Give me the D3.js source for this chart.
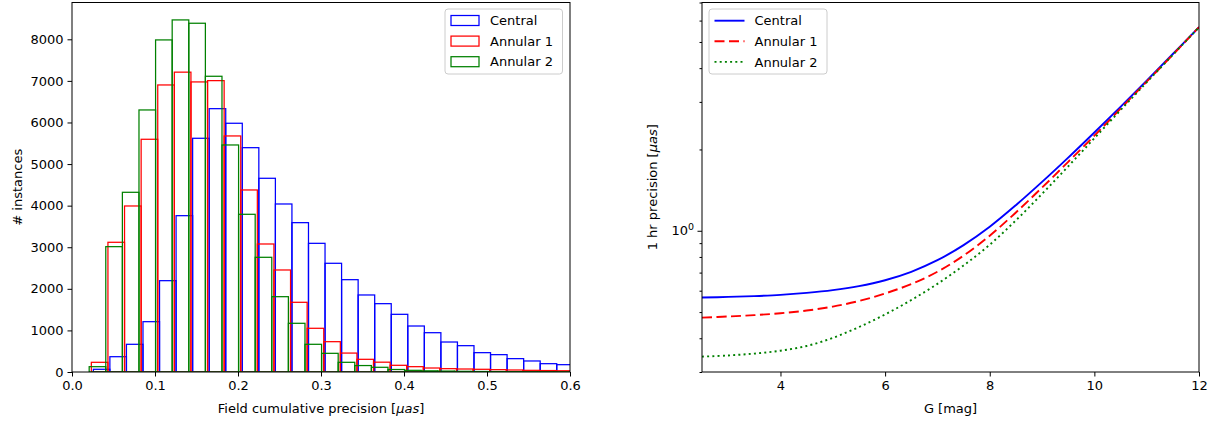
<!DOCTYPE html>
<html>
<head>
<meta charset="utf-8">
<script src="https://cdn.jsdelivr.net/npm/d3@7"></script>
<style>
  html, body { margin: 0; padding: 0; background: #fff; }
  svg { display: block; font-family: "DejaVu Sans", sans-serif; }
</style>
</head>
<body>
<svg id="chart" width="1221" height="421"></svg>
<script>
// ---------------- DATA ----------------
const seriesNames = ["Central", "Annular 1", "Annular 2"];
const seriesColors = ["#0000ff", "#ff0000", "#008000"];

// Histogram (left panel): each series has its own bin origin, bins of width ~0.02
const histBinStart = [0.0257, 0.0233, 0.0207];
const histBinWidth = [0.01994, 0.0200, 0.0200];
const centralCounts = [65, 368, 666, 1210, 2196, 3759, 5620, 6332, 5981, 5394, 4658, 4040, 3591, 3094, 2614, 2220, 1852, 1643, 1387, 1106, 945, 721, 633, 465, 417, 321, 265, 200, 176];
const annular1Counts = [233, 3119, 3992, 5596, 6902, 7210, 6975, 7006, 5676, 4377, 3078, 2453, 1676, 1051, 729, 455, 305, 236, 161, 128, 96, 80, 72, 65, 56, 48, 40, 35, 30];
const annular2Counts = [128, 3014, 4321, 6301, 7985, 8466, 8386, 7111, 5459, 3792, 2758, 1811, 1171, 666, 449, 233, 155, 113, 60, 40, 28, 22, 16, 12, 10, 8, 6, 5, 4];
const histXTicks = [0.0, 0.1, 0.2, 0.3, 0.4, 0.5, 0.6];
const histYTicks = [0, 1000, 2000, 3000, 4000, 5000, 6000, 7000, 8000];

// Precision curves (right panel)
const magG = [2.5, 3, 3.5, 4, 4.5, 5, 5.5, 6, 6.5, 7, 7.5, 8, 8.5, 9, 9.5, 10, 10.5, 11, 11.5, 12];
const centralPrec = [0.566, 0.569, 0.573, 0.579, 0.589, 0.603, 0.624, 0.656, 0.705, 0.778, 0.885, 1.035, 1.244, 1.517, 1.866, 2.312, 2.876, 3.597, 4.512, 5.675];
const annular1Prec = [0.477, 0.4815, 0.487, 0.495, 0.5065, 0.524, 0.5495, 0.586, 0.635, 0.705, 0.809, 0.959, 1.169, 1.445, 1.80, 2.249, 2.831, 3.565, 4.487, 5.675];
const annular2Prec = [0.342, 0.3455, 0.351, 0.3597, 0.3745, 0.4013, 0.440, 0.490, 0.554, 0.636, 0.744, 0.888, 1.093, 1.369, 1.732, 2.201, 2.796, 3.545, 4.483, 5.662];
const precXTicks = [4, 6, 8, 10, 12];
const precYMajor = [1];
const precYMinor = [0.3, 0.4, 0.5, 0.6, 0.7, 0.8, 0.9, 2, 3, 4, 5, 6, 7];

// ---------------- LAYOUT ----------------
const svg = d3.select("#chart");
const FS = 13;
const yTop = 2.5, yBot = 372;
const L = { x0: 72, x1: 570 };
const R = { x0: 702, x1: 1199 };

// ---------------- LEFT: HISTOGRAM ----------------
const xH = d3.scaleLinear().domain([0, 0.6]).range([L.x0, L.x1]);
const yH = d3.scaleLinear().domain([0, 8000 * (yBot - yTop) / (yBot - 39.3)]).range([yBot, yTop]);

svg.append("clipPath").attr("id", "clipL")
  .append("rect").attr("x", L.x0).attr("y", yTop).attr("width", L.x1 - L.x0).attr("height", yBot - yTop);

const gH = svg.append("g").attr("clip-path", "url(#clipL)");
const allCounts = [centralCounts, annular1Counts, annular2Counts];
allCounts.forEach((counts, si) => {
  const bins = counts.map((c, i) => ({
    x0: histBinStart[si] + i * histBinWidth[si],
    x1: histBinStart[si] + (i + 1) * histBinWidth[si],
    c
  }));
  gH.append("g").selectAll("rect").data(bins).join("rect")
    .attr("x", d => xH(d.x0))
    .attr("y", d => yH(d.c))
    .attr("width", d => xH(d.x1) - xH(d.x0))
    .attr("height", d => yH(0) - yH(d.c))
    .attr("fill", "none")
    .attr("stroke", seriesColors[si])
    .attr("stroke-width", 1.25);
});

// Axes left
svg.append("rect").attr("x", L.x0).attr("y", yTop).attr("width", L.x1 - L.x0).attr("height", yBot - yTop)
  .attr("fill", "none").attr("stroke", "#000").attr("stroke-width", 1);

const xAxisL = svg.append("g").attr("transform", `translate(0,${yBot})`)
  .call(d3.axisBottom(xH).tickValues(histXTicks).tickFormat(d3.format(".1f")).tickSizeOuter(0).tickSize(4.5).tickPadding(4));
const yAxisL = svg.append("g").attr("transform", `translate(${L.x0},0)`)
  .call(d3.axisLeft(yH).tickValues(histYTicks).tickFormat(d3.format("d")).tickSizeOuter(0).tickSize(4.5).tickPadding(4));
[xAxisL, yAxisL].forEach(a => {
  a.select(".domain").remove();
  a.selectAll("text").attr("font-size", FS).attr("font-family", "DejaVu Sans").attr("fill", "#000");
  a.selectAll("line").attr("stroke", "#000");
});

// Labels left
const xlabL = svg.append("text").attr("x", (L.x0 + L.x1) / 2).attr("y", 413)
  .attr("text-anchor", "middle").attr("font-size", FS);
xlabL.append("tspan").text("Field cumulative precision [");
xlabL.append("tspan").attr("font-style", "italic").text("μas");
xlabL.append("tspan").text("]");

svg.append("text").attr("transform", `translate(22,${(yTop + yBot) / 2}) rotate(-90)`)
  .attr("text-anchor", "middle").attr("font-size", FS).text("# instances");

// Legend left
const legL = svg.append("g").attr("transform", "translate(445,9)");
legL.append("rect").attr("width", 117.5).attr("height", 65).attr("rx", 3)
  .attr("fill", "#fff").attr("fill-opacity", 0.8).attr("stroke", "#cccccc").attr("stroke-width", 1);
seriesNames.forEach((n, i) => {
  const cy = 11.5 + i * 20.6;
  legL.append("rect").attr("x", 6).attr("y", cy - 5).attr("width", 28).attr("height", 10)
    .attr("fill", "none").attr("stroke", seriesColors[i]).attr("stroke-width", 1.25);
  legL.append("text").attr("x", 45).attr("y", cy + 4.7).attr("font-size", FS).text(n);
});

// ---------------- RIGHT: PRECISION CURVES ----------------
const xP = d3.scaleLinear().domain([2.5, 12]).range([R.x0, R.x1]);
const yP = d3.scaleLog().domain([0.3, 7.0]).range([yBot, yTop]);

svg.append("clipPath").attr("id", "clipR")
  .append("rect").attr("x", R.x0).attr("y", yTop).attr("width", R.x1 - R.x0).attr("height", yBot - yTop);

const line = d3.line().x(d => xP(d[0])).y(d => yP(d[1])).curve(d3.curveCatmullRom.alpha(0.5));
const precSeries = [centralPrec, annular1Prec, annular2Prec];
const dashes = [null, "10,4.5", "2,3.2"];
const gP = svg.append("g").attr("clip-path", "url(#clipR)");
precSeries.forEach((vals, si) => {
  gP.append("path")
    .datum(magG.map((g, i) => [g, vals[i]]))
    .attr("d", line)
    .attr("fill", "none")
    .attr("stroke", seriesColors[si])
    .attr("stroke-width", 1.9)
    .attr("stroke-dasharray", dashes[si]);
});

svg.append("rect").attr("x", R.x0).attr("y", yTop).attr("width", R.x1 - R.x0).attr("height", yBot - yTop)
  .attr("fill", "none").attr("stroke", "#000").attr("stroke-width", 1);

const xAxisR = svg.append("g").attr("transform", `translate(0,${yBot})`)
  .call(d3.axisBottom(xP).tickValues(precXTicks).tickFormat(d3.format("d")).tickSizeOuter(0).tickSize(4.5).tickPadding(4));
const yAxisRMinor = svg.append("g").attr("transform", `translate(${R.x0},0)`)
  .call(d3.axisLeft(yP).tickValues(precYMinor).tickFormat("").tickSizeOuter(0).tickSize(2.5));
const yAxisR = svg.append("g").attr("transform", `translate(${R.x0},0)`)
  .call(d3.axisLeft(yP).tickValues(precYMajor).tickFormat("").tickSizeOuter(0).tickSize(4.5));
[xAxisR, yAxisR, yAxisRMinor].forEach(a => {
  a.select(".domain").remove();
  a.selectAll("text").attr("font-size", FS).attr("font-family", "DejaVu Sans").attr("fill", "#000");
  a.selectAll("line").attr("stroke", "#000");
});
// 10^0 label
precYMajor.forEach(v => {
  const t = svg.append("text").attr("x", R.x0 - 8).attr("y", yP(v) + 4.5)
    .attr("text-anchor", "end").attr("font-size", FS);
  t.append("tspan").text("10");
  t.append("tspan").attr("dy", -5).attr("font-size", 9.5).text("0");
});

svg.append("text").attr("x", (R.x0 + R.x1) / 2).attr("y", 413)
  .attr("text-anchor", "middle").attr("font-size", FS).text("G [mag]");

const ylabR = svg.append("text").attr("transform", `translate(657,${(yTop + yBot) / 2}) rotate(-90)`)
  .attr("text-anchor", "middle").attr("font-size", FS);
ylabR.append("tspan").text("1 hr precision [");
ylabR.append("tspan").attr("font-style", "italic").text("μas");
ylabR.append("tspan").text("]");

// Legend right
const legR = svg.append("g").attr("transform", "translate(709,9)");
legR.append("rect").attr("width", 118).attr("height", 65).attr("rx", 3)
  .attr("fill", "#fff").attr("fill-opacity", 0.8).attr("stroke", "#cccccc").attr("stroke-width", 1);
seriesNames.forEach((n, i) => {
  const cy = 11.7 + i * 20.6;
  legR.append("line").attr("x1", 5.5).attr("x2", 35.5).attr("y1", cy).attr("y2", cy)
    .attr("stroke", seriesColors[i]).attr("stroke-width", 1.9).attr("stroke-dasharray", dashes[i]);
  legR.append("text").attr("x", 45.5).attr("y", cy + 4.7).attr("font-size", FS).text(n);
});
</script>
</body>
</html>
